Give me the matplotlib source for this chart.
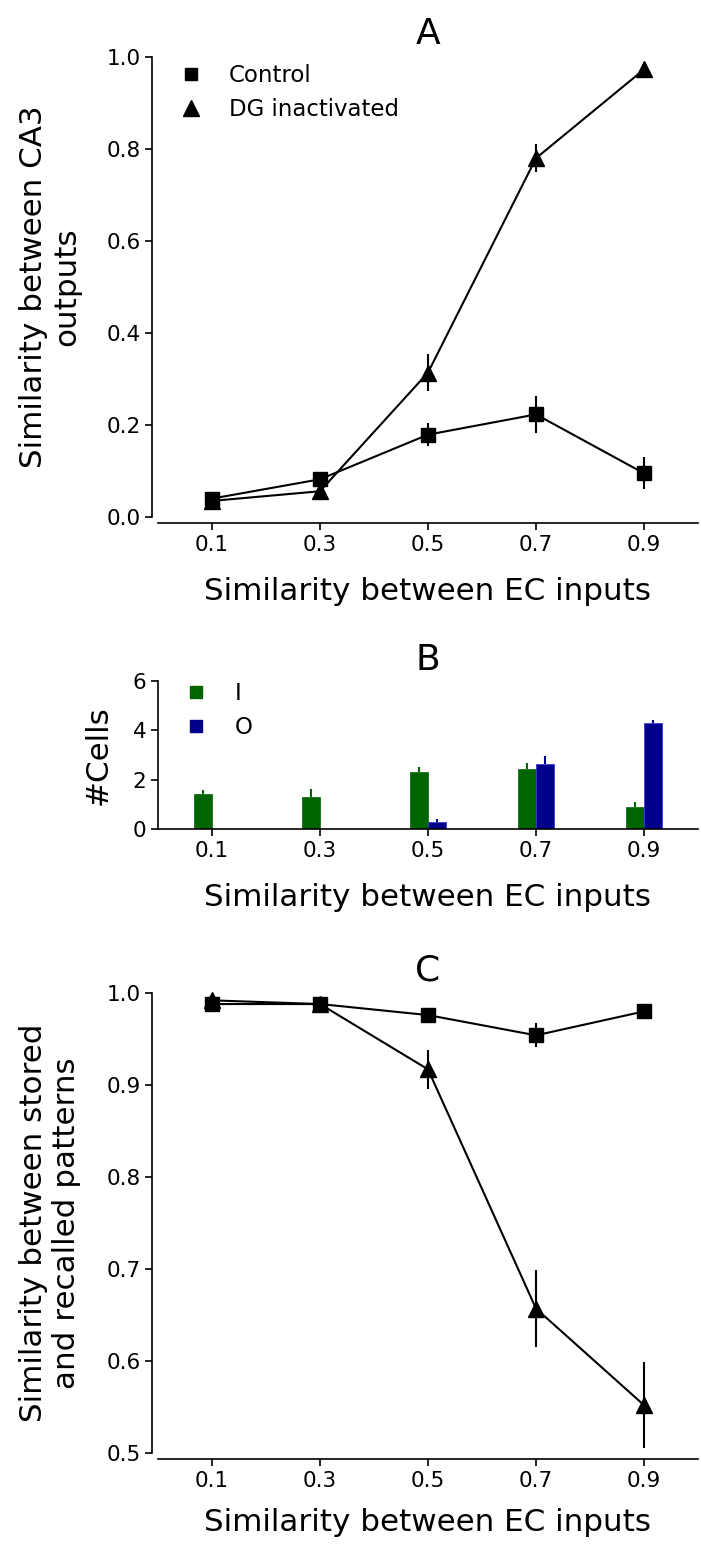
import matplotlib
matplotlib.use('Agg')
import matplotlib.pyplot as plt
from matplotlib.lines import Line2D
import numpy as np

plt.rcParams.update({
    'font.family': 'DejaVu Sans', 'font.size': 15,
    'figure.facecolor': 'white', 'savefig.facecolor': 'white',
})

# data
x = [0.1, 0.3, 0.5, 0.7, 0.9]

a_ctrl = [0.040, 0.082, 0.179, 0.223, 0.095]
a_ctrl_err = [0.008, 0.008, 0.025, 0.041, 0.035]
a_dg = [0.035, 0.056, 0.314, 0.780, 0.973]
a_dg_err = [0.005, 0.006, 0.041, 0.031, 0.005]

b_in = [1.42, 1.31, 2.31, 2.43, 0.91]
b_in_err = [0.16, 0.30, 0.22, 0.26, 0.18]
b_out = [0.0, 0.0, 0.30, 2.62, 4.31]
b_out_err = [0.0, 0.0, 0.10, 0.35, 0.11]

c_ctrl = [0.988, 0.988, 0.976, 0.954, 0.980]
c_ctrl_err = [0.003, 0.003, 0.003, 0.013, 0.002]
c_dg = [0.992, 0.988, 0.917, 0.657, 0.552]
c_dg_err = [0.004, 0.004, 0.021, 0.042, 0.047]

xticks = [0.1, 0.3, 0.5, 0.7, 0.9]
xlab = 'Similarity between EC inputs'
TICK_FS, LAB_FS, TITLE_FS, LEG_FS = 15.5, 22.3, 26, 16.5
W, H = 701, 1551
G_COL, B_COL = '#006400', '#00008B'

fig = plt.figure(figsize=(W / 100, H / 100), dpi=100)

def add_ax(top, bottom):
    return fig.add_axes([158 / W, (H - bottom) / H, 540 / W, (bottom - top) / H])

def style(ax, offset=True, lpad=16):
    for s in ('top', 'right'):
        ax.spines[s].set_visible(False)
    if offset:
        ax.spines['left'].set_position(('outward', 4))
        ax.spines['bottom'].set_position(('outward', 4.5))
    ax.set_xlim(0, 1)
    ax.set_xticks(xticks)
    ax.set_xticklabels([f'{v:.1f}' for v in xticks])
    ax.tick_params(labelsize=TICK_FS, length=5, width=1.2, direction='out')
    for s in ('left', 'bottom'):
        ax.spines[s].set_linewidth(1.2)
    ax.set_xlabel(xlab, fontsize=LAB_FS, labelpad=lpad)

def lines(ax, ctrl, ce, dg, de):
    ax.errorbar(x, ctrl, yerr=ce, color='black', marker='s', ms=10, lw=1.5,
                elinewidth=1.5, capsize=0, clip_on=False, zorder=3)
    ax.errorbar(x, dg, yerr=de, color='black', marker='^', ms=12, lw=1.5,
                elinewidth=1.5, capsize=0, clip_on=False, zorder=3)

# ---- A ----
axA = add_ax(57, 517)
lines(axA, a_ctrl, a_ctrl_err, a_dg, a_dg_err)
axA.set_ylim(0, 1.0)
axA.set_yticks(np.arange(0, 1.01, 0.2))
style(axA)
axA.set_ylabel('Similarity between CA3\noutputs', fontsize=LAB_FS, labelpad=18)
axA.set_title('A', fontsize=TITLE_FS, pad=9)
hA = [Line2D([], [], color='black', marker='s', ls='none', ms=9),
      Line2D([], [], color='black', marker='^', ls='none', ms=12)]
axA.legend(hA, ['Control', 'DG inactivated'], frameon=False, fontsize=LEG_FS,
           loc='upper left', bbox_to_anchor=(-0.02, 1.03), handletextpad=0.65,
           labelspacing=0.5)

# ---- B ----
axB = add_ax(681, 829)
bw = 0.033
xa = np.array(x)
axB.bar(xa - bw / 2, b_in, bw, color=G_COL, edgecolor=G_COL, lw=0.5,
        yerr=[np.zeros(5), b_in_err], ecolor=G_COL, error_kw=dict(lw=1.5, capsize=0))
mask = np.array(b_out) > 0
axB.bar(xa[mask] + bw / 2, np.array(b_out)[mask], bw, color=B_COL, edgecolor='#3a3ad0', lw=0.6,
        yerr=[np.zeros(mask.sum()), np.array(b_out_err)[mask]], ecolor=B_COL,
        error_kw=dict(lw=1.5, capsize=0))
axB.set_ylim(0, 6)
axB.set_yticks([0, 2, 4, 6])
style(axB, offset=False)
axB.set_ylabel('#Cells', fontsize=LAB_FS, labelpad=14)
axB.set_title('B', fontsize=TITLE_FS, pad=8)
hB = [Line2D([], [], color=G_COL, marker='s', ls='none', ms=9),
      Line2D([], [], color=B_COL, marker='s', ls='none', ms=9)]
axB.legend(hB, ['I', 'O'], frameon=False, fontsize=LEG_FS, loc='upper left',
           bbox_to_anchor=(-0.01, 1.13), handletextpad=0.7, labelspacing=0.45)

# ---- C ----
axC = add_ax(993, 1453)
lines(axC, c_ctrl, c_ctrl_err, c_dg, c_dg_err)
axC.set_ylim(0.5, 1.0)
axC.set_yticks(np.arange(0.5, 1.01, 0.1))
style(axC, lpad=12)
axC.set_ylabel('Similarity between stored\nand recalled patterns', fontsize=LAB_FS, labelpad=18)
axC.set_title('C', fontsize=TITLE_FS, pad=9)

fig.savefig('out.png', dpi=100)
